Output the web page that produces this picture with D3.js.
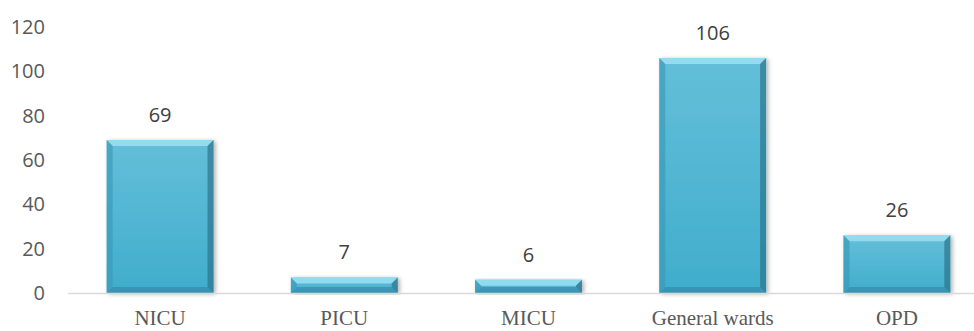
<!DOCTYPE html>
<html>
<head>
<meta charset="utf-8">
<script src="https://cdn.jsdelivr.net/npm/d3@7"></script>
<style>
  body { margin: 0; background: #fff; }
  svg { display: block; }
</style>
</head>
<body>
<svg></svg>
<script>
// categories and values
const categories = ["NICU", "PICU", "MICU", "General wards", "OPD"];
const values = [69, 7, 6, 106, 26];
const yTicks = [0, 20, 40, 60, 80, 100, 120];

document.addEventListener("DOMContentLoaded", function() {
    const width = 974;
    const height = 331;
    const svg = d3.select("svg")
        .attr("width", width)
        .attr("height", height);

    // gradients for the bevelled bars
    const defs = svg.append("defs");
    const grad = defs.append("linearGradient")
        .attr("id", "barGrad")
        .attr("x1", 0).attr("y1", 0).attr("x2", 0).attr("y2", 1);
    grad.append("stop").attr("offset", "0%").attr("stop-color", "#64bfd9");
    grad.append("stop").attr("offset", "100%").attr("stop-color", "#40adcc");

    const shadow = defs.append("filter").attr("id", "shadow")
        .attr("x", "-10%").attr("y", "-10%").attr("width", "125%").attr("height", "120%");
    shadow.append("feDropShadow")
        .attr("dx", 2).attr("dy", 1).attr("stdDeviation", 2)
        .attr("flood-color", "#000").attr("flood-opacity", 0.3);

    const x = d3.scaleBand()
        .domain(categories)
        .range([68, 989])
        .paddingInner(0.42)
        .paddingOuter(0.21);

    const y = d3.scaleLinear()
        .domain([0, 120])
        .range([293, 27]);

    // y labels (no axis line)
    svg.append("g")
        .selectAll("text")
        .data(yTicks)
        .join("text")
        .attr("x", 45)
        .attr("y", d => y(d))
        .attr("dy", "0.35em")
        .attr("text-anchor", "end")
        .attr("font-family", "Open Sans, sans-serif")
        .attr("font-size", 20)
        .attr("fill", "#595959")
        .text(d => d);

    // bars
    const bw = x.bandwidth();
    const bev = 6;
    const bars = svg.append("g")
        .selectAll("g")
        .data(categories)
        .join("g")
        .attr("filter", "url(#shadow)");

    bars.append("rect")
        .attr("x", d => x(d))
        .attr("y", (d, i) => y(values[i]))
        .attr("width", bw)
        .attr("height", (d, i) => y(0) - y(values[i]))
        .attr("fill", "url(#barGrad)");

    // bevel faces
    const face = (pts, color, op) => bars.append("path")
        .attr("d", (d, i) => {
            const x0 = x(d), x1 = x(d) + bw, y0 = y(values[i]), y1 = y(0);
            const b = Math.min(bev, (y1 - y0) / 2);
            return "M" + pts(x0, x1, y0, y1, b).map(p => p.join(",")).join("L") + "Z";
        })
        .attr("fill", color)
        .attr("opacity", op);

    face((x0, x1, y0, y1, b) => [[x0, y0], [x1, y0], [x1 - b, y0 + b], [x0 + b, y0 + b]], "#9be0f3", 0.85);
    face((x0, x1, y0, y1, b) => [[x0, y1], [x1, y1], [x1 - b, y1 - b], [x0 + b, y1 - b]], "#2a7f99", 0.5);
    face((x0, x1, y0, y1, b) => [[x0, y0], [x0 + b, y0 + b], [x0 + b, y1 - b], [x0, y1]], "#3597b6", 0.6);
    face((x0, x1, y0, y1, b) => [[x1, y0], [x1 - b, y0 + b], [x1 - b, y1 - b], [x1, y1]], "#2a6f86", 0.65);

    // axis line
    svg.append("line")
        .attr("x1", 68).attr("x2", width)
        .attr("y1", y(0) + 0.5).attr("y2", y(0) + 0.5)
        .attr("stroke", "#d9d9d9")
        .attr("stroke-width", 1.5);

    // value labels
    svg.append("g")
        .selectAll("text")
        .data(categories)
        .join("text")
        .attr("x", d => x(d) + bw / 2)
        .attr("y", (d, i) => y(values[i]) - 25)
        .attr("dy", "0.35em")
        .attr("text-anchor", "middle")
        .attr("font-family", "Open Sans, sans-serif")
        .attr("font-size", 20)
        .attr("fill", "#404040")
        .text((d, i) => values[i]);

    // category labels
    svg.append("g")
        .selectAll("text")
        .data(categories)
        .join("text")
        .attr("x", d => x(d) + bw / 2)
        .attr("y", 325)
        .attr("text-anchor", "middle")
        .attr("font-family", "Liberation Serif, serif")
        .attr("font-size", 21)
        .attr("fill", "#595959")
        .text(d => d);
});
</script>
</body>
</html>
